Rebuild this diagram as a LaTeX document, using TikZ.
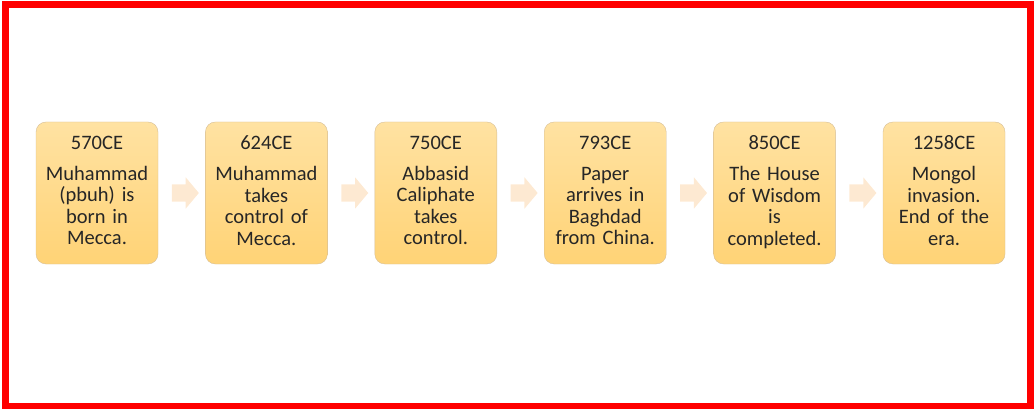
\documentclass[tikz,border=0pt]{standalone}
\usepackage{fontspec}
\setmainfont{Carlito}
\usetikzlibrary{shapes.arrows, positioning, calc}
\definecolor{boxTop}{RGB}{255,226,162}
\definecolor{boxBottom}{RGB}{255,211,118}
\definecolor{boxEdge}{RGB}{214,190,150}
\definecolor{arrowFill}{RGB}{253,233,210}
\definecolor{frameRed}{RGB}{255,0,0}
\tikzset{
    % Timeline boxes
    event/.style = {
        draw=boxEdge, rectangle, rounded corners=10pt,
        top color=boxTop, bottom color=boxBottom,
        minimum width=122pt, minimum height=142pt, inner sep=0pt,
        text width=120pt, align=center, text=black!85,
        font=\fontsize{20.5}{21.5}\selectfont
    },
    % Arrows between boxes
    stepArrow/.style = {
        single arrow, fill=arrowFill, draw=none,
        inner xsep=0pt, inner ysep=8.5pt, minimum width=0pt,
        minimum height=27pt,
        single arrow head extend=7pt, single arrow tip angle=100
    }
}
\newcommand{\ls}{\rule[-5pt]{0pt}{16pt}}
\newcommand{\yr}[1]{\ls #1\\[9.5pt]}

\begin{document}
\begin{tikzpicture}[x=1pt, y=-1pt, node distance=47pt]
    \useasboundingbox (0,0) rectangle (1034,409);
    \draw [frameRed, line width=7pt] (5,5) rectangle (1030.5,406);

    \node (e570) [event] at (97,193) {\yr{570CE}\ls Muhammad\\\ls (pbuh) is\\\ls born in\\\ls Mecca.};
    \node (e624) [event, right=of e570] {\yr{624CE}\ls Muhammad\\\ls takes\\\ls control of\\\ls Mecca.};
    \node (e750) [event, right=of e624] {\yr{750CE}\ls Abbasid\\\ls Caliphate\\\ls takes\\\ls control.};
    \node (e793) [event, right=of e750] {\yr{793CE}\ls Paper\\\ls arrives in\\\ls Baghdad\\\ls from China.};
    \node (e850) [event, right=of e793] {\yr{850CE}\ls The House\\\ls of Wisdom\\\ls is\\\ls completed.};
    \node (e1258) [event, right=of e850] {\yr{1258CE}\ls Mongol\\\ls invasion.\\\ls End of the\\\ls era.};

    \node (a1) [stepArrow] at ($(e570.east)!0.5!(e624.west)$) {};
    \node (a2) [stepArrow] at ($(e624.east)!0.5!(e750.west)$) {};
    \node (a3) [stepArrow] at ($(e750.east)!0.5!(e793.west)$) {};
    \node (a4) [stepArrow] at ($(e793.east)!0.5!(e850.west)$) {};
    \node (a5) [stepArrow] at ($(e850.east)!0.5!(e1258.west)$) {};
\end{tikzpicture}
\end{document}
